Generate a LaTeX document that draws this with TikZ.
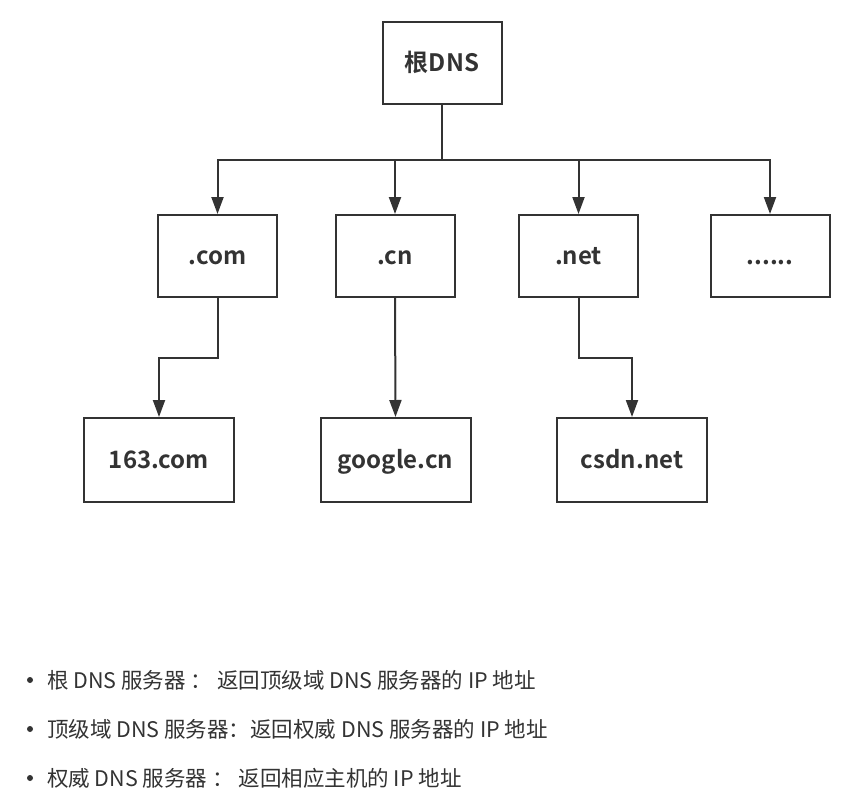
\documentclass[tikz,border=0pt]{standalone}
\usepackage{fontspec}
\setmainfont{Noto Sans CJK SC}
\newfontfamily\cjkbold{Noto Sans CJK SC Bold}
\usetikzlibrary{arrows.meta}
\definecolor{ink}{HTML}{333333}
\tikzset{
  box/.style={draw=ink, line width=2pt, fill=white, text=ink, font=\cjkbold\fontsize{24}{28}\selectfont, minimum width=119pt, minimum height=82pt, inner sep=0pt,
    text height=16pt, text depth=0pt},
  leaf/.style={box, minimum width=150pt, minimum height=84pt},
  conn/.style={draw=ink, line width=2pt},
  arr/.style={conn, -{Triangle[length=17pt,width=12pt]}},
  note/.style={anchor=west, text=ink, font=\fontsize{21.5}{24}\selectfont, inner sep=0pt},
  dot/.style={fill=ink, draw=none}
}
\begin{document}
\begin{tikzpicture}[x=1pt,y=-1pt]
\useasboundingbox (0,0) rectangle (850,800);
\fill[white] (0,0) rectangle (850,800);
\node[box] (root) at (442,63) {根DNS};
\node[box] (com) at (217.5,256) {.com};
\node[box] (cn) at (395,256) {.cn};
\node[box] (net) at (578.5,256) {.net};
\node[box] (etc) at (770,256) {......};
\node[leaf] (c163) at (159,460) {163.com};
\node[leaf] (google) at (395.5,460) {google.cn};
\node[leaf] (csdn) at (632,460) {csdn.net};
\coordinate (bus) at (442,159.5);
\coordinate (m1) at (217.5,358);
\coordinate (m3) at (578.5,358);
\draw[conn] (root.south) -- (bus);
\draw[arr] (bus) -| (com.north);
\draw[arr] (bus) -| (cn.north);
\draw[arr] (bus) -| (net.north);
\draw[arr] (bus) -| (etc.north);
\draw[arr] (com.south) -- (m1) -| (c163.north);
\draw[arr] (cn.south) -- (google.north);
\draw[arr] (net.south) -- (m3) -| (csdn.north);
\fill[dot] (30,680) circle (3pt);
\fill[dot] (30,729) circle (3pt);
\fill[dot] (30,778) circle (3pt);
\node[note] (l1) at (47,680) {根 DNS 服务器 ： 返回顶级域 DNS 服务器的 IP 地址};
\node[note] (l2) at (47,729) {顶级域 DNS 服务器：返回权威 DNS 服务器的 IP 地址};
\node[note] (l3) at (47,778) {权威 DNS 服务器 ： 返回相应主机的 IP 地址};
\end{tikzpicture}
\end{document}
